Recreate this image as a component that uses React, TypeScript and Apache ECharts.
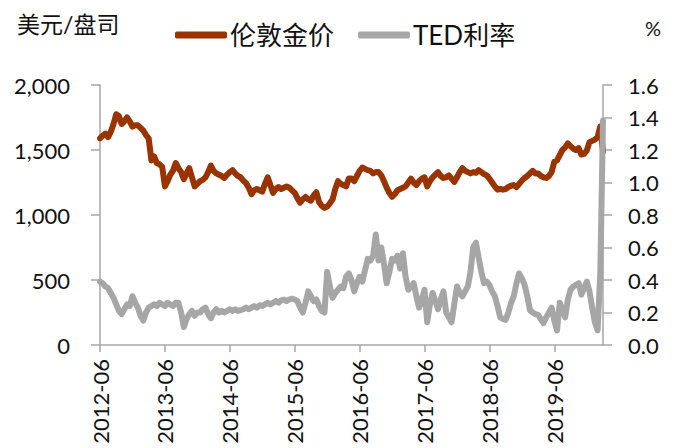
import React, { useEffect, useRef } from "react";
import * as echarts from "echarts";

// Semi-monthly readings, 2012-06 .. 2020-03
const goldPrice: number[] = [
  1590, 1610, 1625, 1600, 1640, 1700, 1775, 1760, 1700, 1720,
  1750, 1720, 1680, 1690, 1690, 1670, 1650, 1615, 1590, 1420,
  1450, 1400, 1390, 1370, 1220, 1260, 1310, 1340, 1400, 1360,
  1330, 1275, 1320, 1360, 1290, 1220, 1240, 1260, 1270, 1290,
  1330, 1380, 1340, 1320, 1310, 1300, 1285, 1310, 1330, 1345,
  1320, 1300, 1290, 1265, 1245, 1210, 1160, 1190, 1200, 1190,
  1180, 1240, 1290, 1230, 1170, 1200, 1215, 1200, 1210, 1220,
  1210, 1190, 1170, 1130, 1095, 1120, 1140, 1120, 1110, 1150,
  1175, 1100, 1070, 1055, 1065, 1090, 1120, 1200, 1260, 1240,
  1230, 1220, 1280, 1280, 1260, 1300, 1340, 1365, 1355, 1345,
  1340, 1320, 1330, 1330, 1305, 1260, 1210, 1170, 1140, 1160,
  1190, 1200, 1210, 1220, 1250, 1280, 1250, 1230, 1260, 1280,
  1290, 1220, 1260, 1290, 1310, 1330, 1300, 1285, 1290, 1305,
  1280, 1255, 1290, 1330, 1360, 1340, 1330, 1320, 1330, 1325,
  1345, 1330, 1315, 1305, 1280, 1250, 1220, 1195, 1200, 1195,
  1200, 1215, 1225, 1230, 1215, 1240, 1265, 1285, 1300, 1320,
  1340, 1320, 1320, 1300, 1290, 1285, 1300, 1330, 1410, 1420,
  1460, 1500, 1520, 1550, 1530, 1510, 1500, 1515, 1465, 1470,
  1495, 1560, 1570, 1580, 1600, 1680, 1490,
];

const tedSpread: number[] = [
  0.39, 0.38, 0.36, 0.35, 0.32, 0.29, 0.25, 0.21, 0.19, 0.22,
  0.25, 0.24, 0.30, 0.26, 0.23, 0.18, 0.15, 0.20, 0.23, 0.24,
  0.25, 0.24, 0.26, 0.25, 0.24, 0.26, 0.25, 0.24, 0.26, 0.26,
  0.20, 0.11, 0.16, 0.19, 0.21, 0.18, 0.20, 0.20, 0.22, 0.23,
  0.19, 0.165, 0.20, 0.22, 0.20, 0.21, 0.20, 0.21, 0.22, 0.21,
  0.22, 0.21, 0.215, 0.22, 0.23, 0.22, 0.23, 0.24, 0.23, 0.245,
  0.24, 0.25, 0.26, 0.25, 0.26, 0.27, 0.26, 0.275, 0.28, 0.27,
  0.28, 0.285, 0.28, 0.27, 0.23, 0.20, 0.26, 0.33, 0.30, 0.27,
  0.28, 0.24, 0.21, 0.20, 0.45, 0.36, 0.29, 0.32, 0.34, 0.36,
  0.35, 0.42, 0.44, 0.40, 0.33, 0.38, 0.42, 0.39, 0.46, 0.53,
  0.52, 0.55, 0.68, 0.52, 0.60, 0.50, 0.38, 0.45, 0.53, 0.52,
  0.55, 0.47, 0.565, 0.42, 0.34, 0.36, 0.38, 0.30, 0.23, 0.28,
  0.34, 0.14, 0.25, 0.32, 0.27, 0.22, 0.28, 0.33, 0.20, 0.17,
  0.14, 0.25, 0.36, 0.32, 0.30, 0.33, 0.36, 0.45, 0.60, 0.63,
  0.54, 0.45, 0.38, 0.39, 0.37, 0.33, 0.30, 0.24, 0.17, 0.16,
  0.155, 0.20, 0.26, 0.30, 0.38, 0.44, 0.41, 0.37, 0.30, 0.215,
  0.20, 0.19, 0.185, 0.16, 0.135, 0.17, 0.20, 0.23, 0.15, 0.09,
  0.26, 0.22, 0.17, 0.28, 0.34, 0.36, 0.37, 0.38, 0.31, 0.35,
  0.39, 0.33, 0.23, 0.14, 0.09, 0.44, 1.38,
];

const seriesNames = ["伦敦金价", "TED利率"];
const leftUnit = "美元/盘司";
const rightUnit = "%";

// date categories: 1st and 16th of each month from 2012-06
const categories: string[] = goldPrice.map((_, i) => {
  const m = 5 + Math.floor(i / 2);
  const y = 2012 + Math.floor(m / 12);
  const mm = String((m % 12) + 1).padStart(2, "0");
  return `${y}-${mm}-${i % 2 === 0 ? "01" : "16"}`;
});

const FONT = "Lato, 'Noto Sans CJK SC', sans-serif";

export default function App() {
  const ref = useRef<HTMLDivElement>(null);
  useEffect(() => {
    document.body.style.margin = "0";
    if (!ref.current) return;
    const chart = echarts.init(ref.current, undefined, { renderer: "svg" });
    const axisColor = "#a6a6a6";
    chart.setOption({
      animation: false,
      textStyle: { fontFamily: FONT },
      grid: { left: 100, right: 77, top: 85, bottom: 103, containLabel: false },
      legend: {
        top: 17,
        left: 170,
        itemWidth: 52,
        itemHeight: 7,
        itemGap: 24,
        icon: "roundRect",
        textStyle: { fontSize: 26, color: "#111", fontFamily: FONT, padding: [0, 0, 0, -2] },
        data: seriesNames,
      },
      graphic: [
        {
          type: "text",
          left: 17,
          top: 12,
          style: { text: leftUnit, fontSize: 23, fill: "#111", fontFamily: FONT },
        },
        {
          type: "text",
          left: 645,
          top: 18,
          style: { text: rightUnit, fontSize: 20, fill: "#111", fontFamily: FONT },
        },
      ],
      xAxis: {
        type: "category",
        boundaryGap: false,
        data: categories,
        axisLine: { lineStyle: { color: axisColor, width: 1.5 } },
        axisTick: { interval: 23, length: 7, lineStyle: { color: axisColor, width: 1.5 } },
        axisLabel: {
          interval: 23,
          rotate: 90,
          margin: 14,
          fontSize: 22,
          color: "#111",
          fontFamily: FONT,
          formatter: (v: string) => v.slice(0, 7),
        },
      },
      yAxis: [
        {
          type: "value",
          min: 0,
          max: 2000,
          interval: 500,
          splitLine: { show: false },
          axisLine: { show: true, lineStyle: { color: axisColor, width: 1.5 } },
          axisTick: { show: true, length: 9, lineStyle: { color: axisColor, width: 1.5 } },
          axisLabel: {
            fontSize: 22,
            color: "#111",
            margin: 30,
            fontFamily: FONT,
            formatter: (v: number) => v.toLocaleString("en-US"),
          },
        },
        {
          type: "value",
          min: 0,
          max: 1.6,
          interval: 0.2,
          splitLine: { show: false },
          axisLine: { show: true, lineStyle: { color: axisColor, width: 1.5 } },
          axisTick: { show: true, length: 9, lineStyle: { color: axisColor, width: 1.5 } },
          axisLabel: {
            fontSize: 22,
            color: "#111",
            margin: 25,
            fontFamily: FONT,
            formatter: (v: number) => v.toFixed(1),
          },
        },
      ],
      series: [
        {
          name: seriesNames[0],
          type: "line",
          yAxisIndex: 0,
          data: goldPrice,
          showSymbol: false,
          symbol: "none",
          lineStyle: { color: "#993300", width: 6, cap: "round", join: "round" },
          itemStyle: { color: "#993300" },
        },
        {
          name: seriesNames[1],
          type: "line",
          yAxisIndex: 1,
          data: tedSpread,
          showSymbol: false,
          symbol: "none",
          lineStyle: { color: "#a6a6a6", width: 6, cap: "round", join: "round" },
          itemStyle: { color: "#a6a6a6" },
        },
      ],
    });
    return () => chart.dispose();
  }, []);
  return <div ref={ref} style={{ width: 680, height: 448 }} />;
}
